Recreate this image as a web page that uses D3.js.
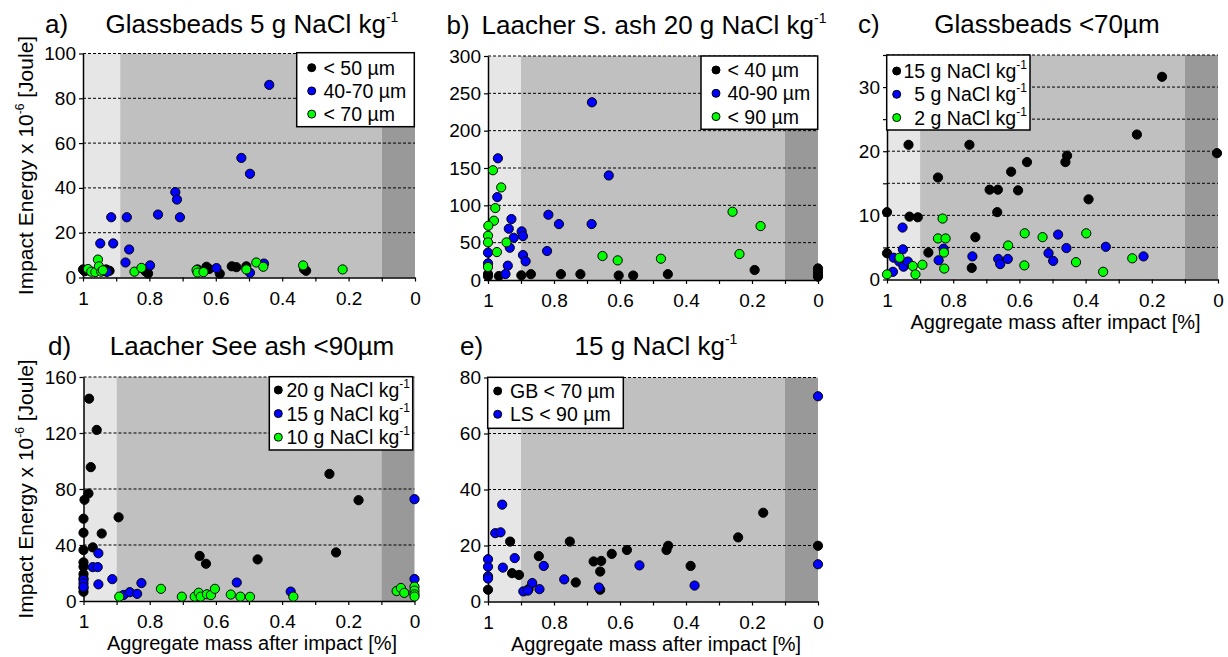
<!DOCTYPE html>
<html>
<head>
<meta charset="utf-8">
<script src="https://cdn.jsdelivr.net/npm/d3@7"></script>
<style>
body { margin: 0; background: #fff; }
svg text { font-family: "Liberation Sans", Arial, sans-serif; fill: #000; }
</style>
</head>
<body>
<svg id="chart" width="1228" height="657"></svg>
<script>
// ---- data: [aggregate mass after impact, impact energy x 1e-6 J] ----
// a) Glassbeads 5 g NaCl kg-1
var aLt50 = [[1.0,3.6],[0.995,2.8],[0.985,3.2],[0.93,3.6],[0.92,3.0],[0.812,2.8],[0.804,1.8],[0.655,3.6],[0.628,4.8],[0.62,3.8],[0.588,1.7],[0.552,5.0],[0.538,4.6],[0.508,5.0],[0.334,3.7],[0.328,3.0]];
var a40to70 = [[0.928,2.5],[0.948,15.2],[0.915,26.9],[0.909,15.2],[0.868,26.9],[0.872,6.7],[0.861,12.5],[0.798,5.4],[0.774,28.1],[0.722,38.1],[0.717,34.8],[0.708,26.9],[0.598,4.2],[0.523,53.4],[0.497,46.3],[0.497,2.1],[0.455,6.2],[0.439,86.0]];
var aLt70 = [[0.985,3.8],[0.975,2.6],[0.963,2.4],[0.955,8.0],[0.952,5.0],[0.945,2.6],[0.94,3.2],[0.845,2.6],[0.824,4.3],[0.658,3.3],[0.655,2.2],[0.637,2.4],[0.508,3.6],[0.478,6.7],[0.457,4.8],[0.337,5.4],[0.218,3.6]];

// b) Laacher S. ash 20 g NaCl kg-1
var bLt40 = [[1.0,8.0],[1.0,5.0],[0.967,5.3],[0.899,6.2],[0.87,7.8],[0.779,7.8],[0.72,7.8],[0.604,6.0],[0.56,6.0],[0.455,7.8],[0.192,13.4],[0,15.5],[0,11.0],[0,7.0],[0,4.5]];
var b40to90 = [[0.685,238],[0.634,140],[0.97,163],[0.972,111],[0.817,87.4],[0.785,74.9],[0.686,74.9],[0.821,38.8],[0.929,81.6],[0.937,68.7],[0.922,56.6],[0.934,43.2],[0.898,65.1],[0.894,58.8],[0.894,33.4],[0.886,25],[0.94,19.2],[0.947,8],[1.0,36.6],[1.0,22.3]];
var bLt90 = [[0.985,147],[0.96,124],[0.978,96.3],[0.982,79.4],[0.999,72.7],[1.0,59.3],[1.0,50.4],[0.944,50.4],[0.973,37.4],[1.0,17.4],[0.653,32.1],[0.607,26.3],[0.476,28.5],[0.259,91.4],[0.238,34.8],[0.174,72.2]];

// c) Glassbeads <70um
var c15g = [[0.169,31.6],[0.245,22.6],[0.003,19.7],[0.456,19.3],[0.461,18.3],[0.577,18.3],[0.625,16.8],[0.69,14.0],[0.665,14.0],[0.604,13.9],[0.667,10.5],[0.391,12.5],[0.935,21.0],[0.751,21.0],[0.846,15.9],[1.0,10.5],[0.932,9.8],[0.907,9.7],[1.0,4.1],[0.875,4.2],[0.733,6.6],[0.744,1.8]];
var c5g = [[0.953,8.1],[0.952,4.7],[0.98,3.4],[0.963,2.8],[0.943,2.4],[0.95,2.0],[0.937,2.8],[0.982,1.2],[0.844,3.0],[0.829,4.8],[0.742,3.6],[0.664,3.2],[0.658,2.4],[0.635,3.2],[0.512,4.1],[0.498,2.9],[0.483,7.0],[0.458,4.9],[0.339,5.1],[0.225,3.6]];
var c2g = [[0.832,9.5],[0.846,6.4],[0.823,6.4],[0.828,4.2],[0.827,1.7],[1.0,0.8],[0.962,3.4],[0.922,2.1],[0.914,0.8],[0.893,2.3],[0.634,5.3],[0.584,7.2],[0.585,2.2],[0.53,6.6],[0.429,2.7],[0.398,7.2],[0.347,1.2],[0.259,3.3]];

// d) Laacher See ash <90um
var d20g = [[0.983,144.5],[0.96,122.2],[0.978,95.6],[0.985,76.8],[0.997,72.3],[1.0,58.8],[1.0,48.8],[1.0,36.4],[1.0,27.6],[1.0,24.5],[1.0,19.3],[1.0,16.2],[1.0,9.1],[1.0,6.6],[0.972,38.3],[0.945,48.2],[0.894,59.8],[0.649,32.2],[0.63,26.6],[0.474,29.7],[0.257,90.8],[0.237,34.7],[0.169,72.0]];
var d15g = [[0,72.7],[0,15.7],[0.955,34.1],[0.972,24.2],[0.957,24.2],[0.955,11.9],[0.913,15.6],[1.0,15.0],[1.0,12.5],[1.0,10.0],[0.879,4.3],[0.86,6.3],[0.838,5.1],[0.825,12.8],[0.537,13.2],[0.374,6.7]];
var d10g = [[0.892,3.1],[0.766,8.7],[0.703,3.1],[0.664,3.1],[0.652,5.9],[0.646,3.1],[0.627,4.8],[0.615,4.2],[0.603,8.7],[0.555,4.6],[0.526,3.1],[0.497,3.0],[0.366,3.1],[0.054,7.1],[0.041,9.3],[0.031,5.8],[0,10.2],[0,7.4],[0,4.8],[0,3.2]];

// e) 15 g NaCl kg-1
var eGB = [[1.0,4.2],[0.933,21.4],[0.927,10.1],[0.906,9.5],[0.846,16.2],[0.877,4.4],[0.752,21.4],[0.734,6.8],[0.68,14.3],[0.657,14.5],[0.66,10.7],[0.66,4.2],[0.625,17.0],[0.579,18.4],[0.459,18.4],[0.454,19.9],[0.386,12.7],[0.242,22.9],[0.166,31.7],[0.0,19.9]];
var eLS = [[0,73.3],[0,13.3],[0.957,34.6],[0.978,24.4],[0.962,24.7],[1.0,15.1],[1.0,12.4],[1.0,9.0],[1.0,8.2],[0.919,15.5],[0.955,12.1],[0.866,6.6],[0.893,3.6],[0.879,3.9],[0.844,4.4],[0.831,12.7],[0.769,7.9],[0.664,5.0],[0.541,12.9],[0.374,5.7]];

// legend labels ("^" starts a superscript)
var legendA = ["< 50 µm", "40-70 µm", "< 70 µm"];
var legendB = ["< 40 µm", "40-90 µm", "< 90 µm"];
var legendC = ["15 g NaCl kg^-1", "5 g NaCl kg^-1", "2 g NaCl kg^-1"];
var legendD = ["20 g NaCl kg^-1", "15 g NaCl kg^-1", "10 g NaCl kg^-1"];
var legendE = ["GB < 70 µm", "LS < 90 µm"];

var xTicks = [0, 0.1, 0.2, 0.3, 0.4, 0.5, 0.6, 0.7, 0.8, 0.9, 1];
var xLabel = "Aggregate mass after impact [%]";

var colors = ["#000000", "#0000ff", "#00ff00"];

var svg = d3.select("#chart");

var panels = [
    {letter: "a)", letterX: 45, title: "Glassbeads 5 g NaCl kg^-1", titleY: 33,
     left: 83, right: 415, top: 53.5, bottom: 277.5, yMax: 100, yStep: 20, labelStep: 20, lightEnd: 0.888,
     series: [aLt50, a40to70, aLt70], names: legendA, colors: [0, 1, 2],
     legend: {x: 296.7, y: 52.7, w: 117.6, h: 74, mx: 311.7, tx: 323.5, ty: 67.7, dy: 23.2, off: [0, 0, 0]},
     yTitle: true, xTitle: false},
    {letter: "b)", letterX: 446.5, title: "Laacher S. ash 20 g NaCl kg^-1", titleY: 34, titleX: 654,
     left: 488, right: 818, top: 56, bottom: 280, yMax: 300, yStep: 50, labelStep: 50, lightEnd: 0.9,
     series: [bLt40, b40to90, bLt90], names: legendB, colors: [0, 1, 2],
     legend: {x: 701, y: 56, w: 116.7, h: 73.3, mx: 716, tx: 727.5, ty: 70, dy: 23.3, off: [0, 0, 0]},
     yTitle: false, xTitle: false},
    {letter: "c)", letterX: 858, title: "Glassbeads <70µm", titleY: 33, titleX: 1047,
     left: 887, right: 1218, top: 55, bottom: 279.5, yMax: 35, yStep: 5, labelStep: 10, lightEnd: 0.9,
     series: [c15g, c5g, c2g], names: legendC, colors: [0, 1, 2],
     legend: {x: 886.7, y: 55, w: 143.3, h: 75, mx: 896.7, tx: 903.5, ty: 71, dy: 23.3, off: [0, 10.8, 10.8]},
     yTitle: false, xTitle: true},
    {letter: "d)", letterX: 48, title: "Laacher See ash <90µm", titleY: 355,
     left: 83.5, right: 414.5, top: 377, bottom: 601, yMax: 160, yStep: 40, labelStep: 40, lightEnd: 0.9,
     series: [d20g, d15g, d10g], names: legendD, colors: [0, 1, 2],
     legend: {x: 269.3, y: 376.7, w: 143.4, h: 73.3, mx: 278.3, tx: 286.5, ty: 390, dy: 23.6, off: [0, 0, 0]},
     yTitle: true, xTitle: true},
    {letter: "e)", letterX: 460, title: "15 g NaCl kg^-1", titleY: 355,
     left: 488, right: 818, top: 377.5, bottom: 601.5, yMax: 80, yStep: 20, labelStep: 20, lightEnd: 0.9,
     series: [eGB, eLS], names: legendE, colors: [0, 1],
     legend: {x: 487.7, y: 377.3, w: 135.6, h: 51, mx: 497.7, tx: 510, ty: 391, dy: 23.3, off: [0, 0]},
     yTitle: false, xTitle: true}
];

// writes "main^sup" into a text element
function richText(sel, str, supSize, supShift) {
    var parts = str.split("^");
    sel.append("tspan").text(parts[0]);
    if (parts.length > 1) {
        sel.append("tspan")
            .attr("dy", -supShift)
            .attr("font-size", supSize)
            .text(parts[1]);
    }
}

panels.forEach(function(p) {
    var g = svg.append("g");
    var x = d3.scaleLinear().domain([1, 0]).range([p.left, p.right]);
    var y = d3.scaleLinear().domain([0, p.yMax]).range([p.bottom, p.top]);
    var yTicks = d3.range(0, p.yMax + 0.001, p.yStep);

    // shaded zones
    g.append("rect").attr("x", x(1)).attr("y", y(p.yMax))
        .attr("width", x(p.lightEnd) - x(1)).attr("height", y(0) - y(p.yMax))
        .attr("fill", "#e6e6e6");
    g.append("rect").attr("x", x(p.lightEnd)).attr("y", y(p.yMax))
        .attr("width", x(0.1) - x(p.lightEnd)).attr("height", y(0) - y(p.yMax))
        .attr("fill", "#c0c0c0");
    g.append("rect").attr("x", x(0.1)).attr("y", y(p.yMax))
        .attr("width", x(0) - x(0.1)).attr("height", y(0) - y(p.yMax))
        .attr("fill", "#999999");

    // dashed grid
    g.append("g").selectAll("line")
        .data(yTicks.filter(function(v) { return v > 0; }))
        .enter().append("line")
        .attr("x1", p.left).attr("x2", p.right)
        .attr("y1", function(d) { return y(d); })
        .attr("y2", function(d) { return y(d); })
        .attr("stroke", "#000").attr("stroke-width", 1)
        .attr("stroke-dasharray", "3,2");

    // axes
    var xAxis = g.append("g")
        .attr("transform", "translate(0," + p.bottom + ")")
        .call(d3.axisBottom(x).tickValues(xTicks).tickSize(4).tickSizeOuter(0).tickPadding(10)
            .tickFormat(function(d) {
                return Math.round(d * 10) % 2 === 0 ? d3.format("~g")(d) : "";
            }));
    var yAxis = g.append("g")
        .attr("transform", "translate(" + p.left + ",0)")
        .call(d3.axisLeft(y).tickValues(yTicks).tickSize(4).tickSizeOuter(0).tickPadding(3)
            .tickFormat(function(d) {
                return d % p.labelStep === 0 ? d : "";
            }));
    [xAxis, yAxis].forEach(function(ax) {
        ax.select(".domain").attr("stroke", "#000").attr("stroke-width", 1.5);
        ax.selectAll(".tick line").attr("stroke", "#000").attr("stroke-width", 1.2);
        ax.selectAll("text").attr("font-size", 19).attr("font-family", null).attr("fill", "#000");
    });

    // points
    p.series.forEach(function(s, i) {
        g.append("g").selectAll("circle")
            .data(s)
            .enter().append("circle")
            .attr("cx", function(d) { return x(d[0]); })
            .attr("cy", function(d) { return y(d[1]); })
            .attr("r", 4.6)
            .attr("fill", colors[p.colors[i]])
            .attr("stroke", "#000")
            .attr("stroke-width", 1);
    });

    // legend
    var L = p.legend;
    var lg = g.append("g");
    lg.append("rect").attr("x", L.x).attr("y", L.y).attr("width", L.w).attr("height", L.h)
        .attr("fill", "#fff").attr("stroke", "#000").attr("stroke-width", 1.5);
    p.names.forEach(function(name, i) {
        var cy = L.ty + i * L.dy;
        lg.append("circle").attr("cx", L.mx).attr("cy", cy).attr("r", 4)
            .attr("fill", colors[p.colors[i]]).attr("stroke", "#000").attr("stroke-width", 1);
        var t = lg.append("text").attr("x", L.tx + L.off[i]).attr("y", cy + 7)
            .attr("font-size", 19.5);
        richText(t, name, 12, 9);
    });

    // titles
    g.append("text").attr("x", p.letterX).attr("y", p.titleY)
        .attr("font-size", 26).text(p.letter);
    var tt = g.append("text")
        .attr("x", p.titleX || (p.left + p.right) / 2 + 3)
        .attr("y", p.titleY)
        .attr("text-anchor", "middle")
        .attr("font-size", 26);
    richText(tt, p.title, 14, 11);

    if (p.xTitle) {
        g.append("text")
            .attr("x", (p.left + p.right) / 2 + 3)
            .attr("y", p.bottom + 49)
            .attr("text-anchor", "middle")
            .attr("font-size", 20)
            .text(xLabel);
    }
    if (p.yTitle) {
        var yt = g.append("text")
            .attr("transform", "translate(33," + ((p.top + p.bottom) / 2) + ") rotate(-90)")
            .attr("text-anchor", "middle")
            .attr("font-size", 21);
        yt.append("tspan").text("Impact Energy x 10");
        yt.append("tspan").attr("dy", -9).attr("font-size", 12).text("-6");
        yt.append("tspan").attr("dy", 9).text(" [Joule]");
    }
});
</script>
</body>
</html>
